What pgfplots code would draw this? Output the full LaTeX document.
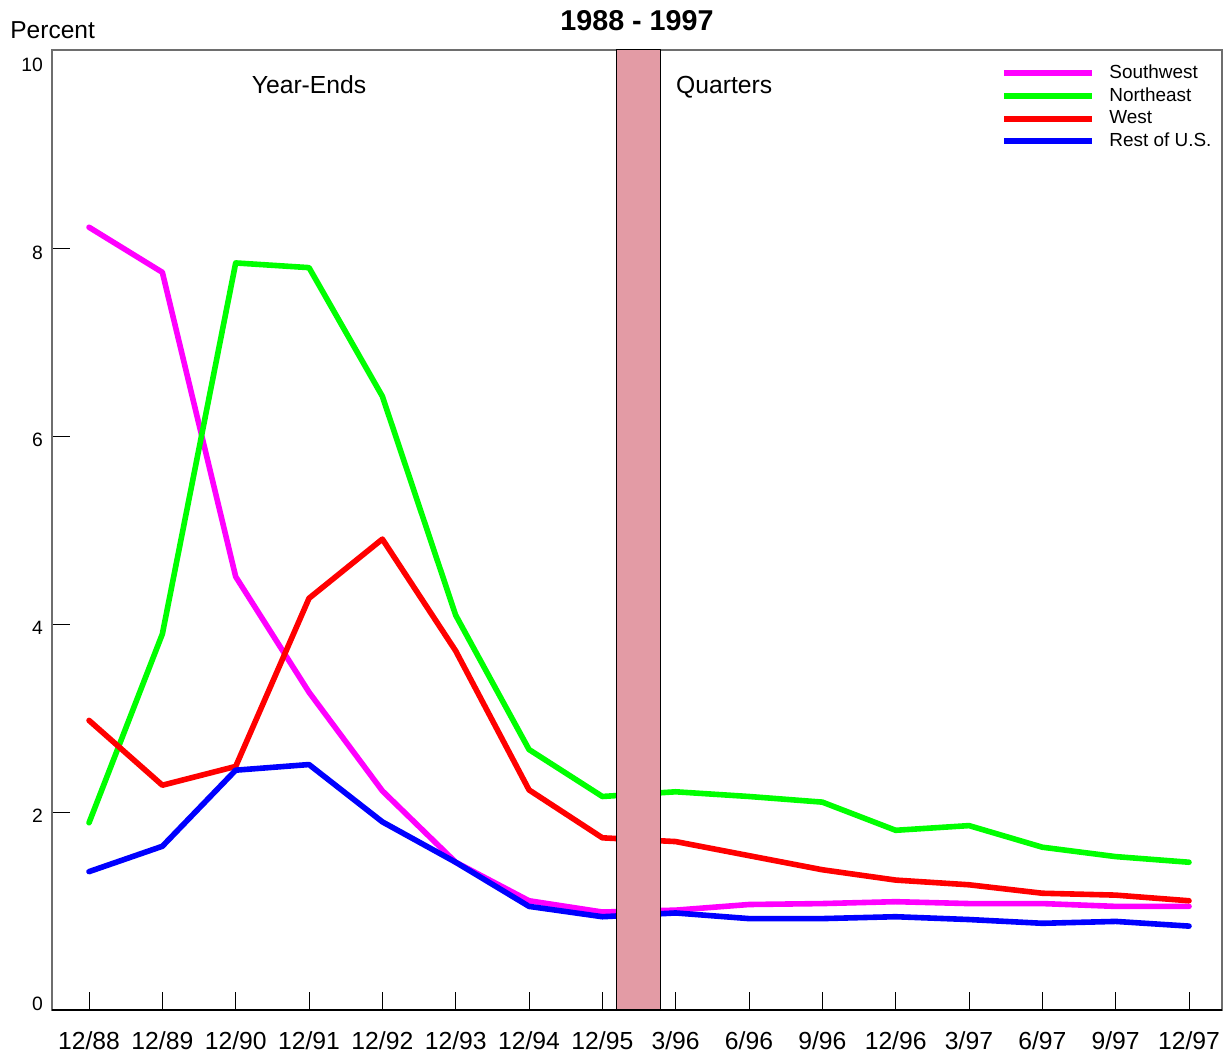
\documentclass[border=0pt]{standalone}
\usepackage{pgfplots}
\pgfplotsset{compat=1.18}
\usepackage{fontspec}
\setmainfont{Liberation Sans}
\definecolor{bandpink}{RGB}{227,155,165}
\definecolor{axgray}{RGB}{110,110,110}
\pgfplotstableread{
x sw ne we re
0 8.23 1.89 2.98 1.37
1 7.75 3.90 2.29 1.64
2 4.51 7.85 2.49 2.45
3 3.28 7.80 4.28 2.51
4 2.23 6.43 4.91 1.90
5 1.47 4.10 3.72 1.47
6 1.06 2.67 2.24 1.00
7 0.94 2.17 1.73 0.89
8 0.96 2.22 1.69 0.93
9 1.02 2.17 1.54 0.87
10 1.03 2.11 1.39 0.87
11 1.05 1.81 1.28 0.89
12 1.03 1.86 1.23 0.86
13 1.03 1.63 1.14 0.82
14 1.00 1.53 1.12 0.84
15 1.00 1.47 1.06 0.79
}\data
\begin{document}
\begin{tikzpicture}
\begin{axis}[
  name=ax,
  scale only axis,
  width=585bp, height=480bp,
  xmin=-0.505, xmax=15.45,
  ymin=-0.103, ymax=10.117,
  axis line style={axgray, line width=0.6bp},
  /pgf/number format/assume math mode=true,
  xtick={0,...,15},
  xticklabels={12/88,12/89,12/90,12/91,12/92,12/93,12/94,12/95,3/96,6/96,9/96,12/96,3/97,6/97,9/97,12/97},
  xticklabel style={font=\fontsize{12.4}{14}\selectfont, yshift=-7.5bp},
  ytick={2,4,6,8},
  extra y ticks={0,10},
  extra y tick style={major tick length=0pt},
  yticklabel style={font=\fontsize{9.7}{11}\selectfont, xshift=-1bp, yshift=-1.8bp},
  tick align=inside,
  xtick pos=bottom, ytick pos=left,
  major tick length=9bp,
  x tick style={black, line width=0.5bp},
  y tick style={black, line width=0.5bp},
  clip=true,
  legend cell align=left,
  legend style={draw=none, fill=none, at={(0.8111,0.988)}, anchor=north west,
    inner sep=0pt, row sep=0.1bp, font=\fontsize{9.5}{11}\selectfont,
    nodes={inner sep=1.5bp}},
  legend image code/.code={\draw[#1, line width=3bp, line cap=butt] (0bp,0bp) -- (44bp,0bp); \path[draw=none] (0bp,0bp) -- (51bp,0bp);},
  every axis plot/.append style={line width=2.8bp, line join=round, line cap=round},
]
\addplot[color={rgb,255:red,255;green,0;blue,255}] table[x=x,y=sw] {\data};
\addlegendentry{Southwest}
\addplot[color={rgb,255:red,0;green,255;blue,0}] table[x=x,y=ne] {\data};
\addlegendentry{Northeast}
\addplot[color={rgb,255:red,255;green,0;blue,0}] table[x=x,y=we] {\data};
\addlegendentry{West}
\addplot[color={rgb,255:red,0;green,0;blue,255}] table[x=x,y=re] {\data};
\addlegendentry{Rest of U.S.}
\addplot[fill=bandpink, draw=black, line width=0.5bp, line cap=butt, forget plot]
  coordinates {(7.19,-0.103) (7.79,-0.103) (7.79,10.117) (7.19,10.117)} -- cycle;
\node[font=\fontsize{12.4}{14}\selectfont] at (axis cs:3,9.75) {Year-Ends};
\node[font=\fontsize{12.4}{14}\selectfont, anchor=west, inner sep=0pt] at (axis cs:8.0,9.72) {Quarters};
\draw[black, line width=0.7bp] (rel axis cs:0,0) -- (rel axis cs:1,0);
\end{axis}
\node[font=\bfseries\fontsize{14.4}{16}\selectfont] at ([yshift=14.5bp]ax.north) {1988 - 1997};
\node[font=\fontsize{12.3}{14}\selectfont, anchor=west, inner sep=0pt] at ([xshift=-21bp,yshift=10bp]ax.north west) {Percent};
\pgfresetboundingbox
\path[use as bounding box] ([xshift=-26bp,yshift=-22.5bp]ax.south west) rectangle ([xshift=4.5bp,yshift=25bp]ax.north east);
\end{tikzpicture}
\end{document}
